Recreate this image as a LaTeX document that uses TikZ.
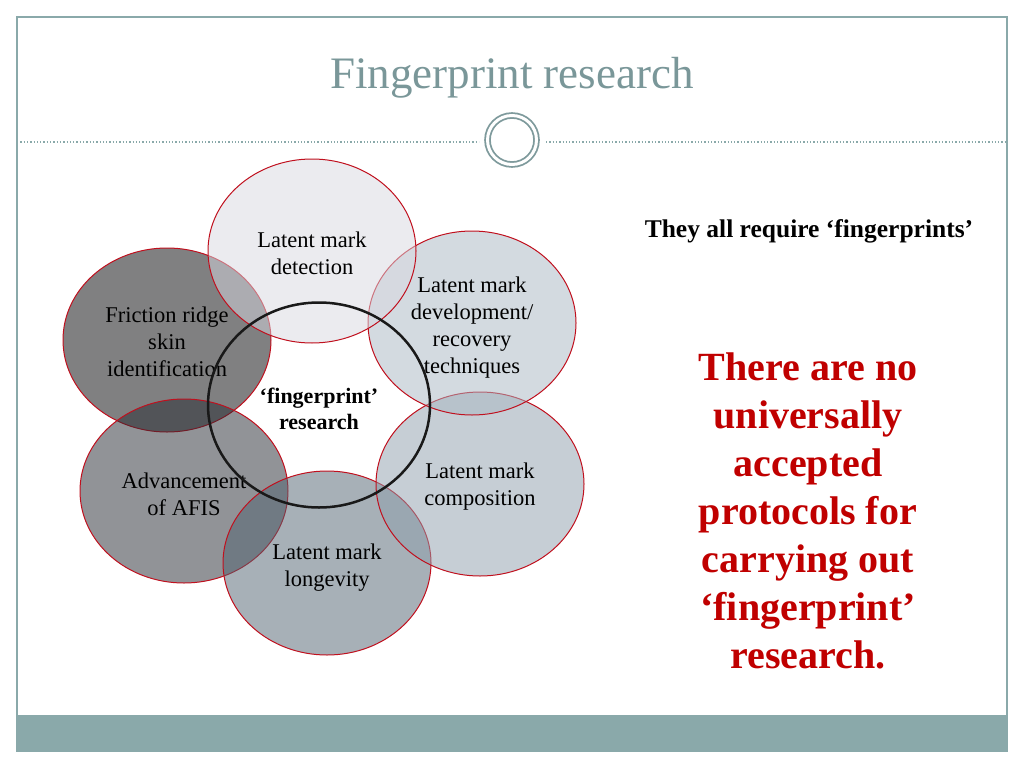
\documentclass[tikz,border=0pt]{standalone}
\usepackage{fontspec}
\setmainfont{Liberation Serif}
\usetikzlibrary{shapes.geometric}
\definecolor{frame}{HTML}{8AA9AA}
\definecolor{ttl}{HTML}{7A9799}
\definecolor{ringc}{HTML}{7E9A9C}
\definecolor{redb}{HTML}{C0101E}
\definecolor{txtred}{HTML}{C00000}
\definecolor{cfric}{HTML}{020204}
\definecolor{cadv}{HTML}{252931}
\definecolor{clong}{HTML}{516371}
\definecolor{ccomp}{HTML}{8F9FAD}
\definecolor{cdev}{HTML}{A9B7C3}
\definecolor{cdet}{HTML}{D9D9E1}
\tikzset{
  venn/.style={ellipse, draw=redb, line width=1pt, minimum width=208pt, minimum height=184pt, inner sep=0pt, fill opacity=0.5},
  lbl/.style={align=center, font=\fontsize{22.5}{27}\selectfont, text=black},
  divline/.style={draw=frame, dotted, line width=1.3pt}
}
\begin{document}
\begin{tikzpicture}[x=1pt,y=-1pt]
\useasboundingbox (0,0) rectangle (1024,768);
\fill[white] (0,0) rectangle (1024,768);
\fill[frame] (17,715) rectangle (1007,751);
\draw[frame, line width=1.5pt] (17,17) rectangle (1007,751);
\node[anchor=base, text=ttl, font=\fontsize{45}{54}\selectfont, inner sep=0pt] (title) at (512,88) {Fingerprint research};
% divider
\coordinate (dl1) at (17,142);
\coordinate (dl2) at (479,142);
\coordinate (dr1) at (546,142);
\coordinate (dr2) at (1007,142);
\draw[divline] (dl1) -- (dl2);
\draw[divline] (dr1) -- (dr2);
\node[circle, draw=ringc, line width=1.8pt, double=white, double distance=3pt, minimum size=49pt, inner sep=0pt] (ring) at (512,140) {};
% circles
\node[venn, fill=cfric] (fric) at (167,340) {};
\node[venn, fill=cadv] (adv) at (184,491) {};
\node[venn, fill=clong] (long) at (327,563) {};
\node[venn, fill=ccomp] (comp) at (480,484) {};
\node[venn, fill=cdev] (dev) at (472,323) {};
\node[venn, fill=cdet] (det) at (312,251) {};
% labels
\node[lbl] (tdet) at ([yshift=-2pt]det) {Latent mark\\detection};
\node[lbl] (tdev) at ([yshift=-5pt]dev) {Latent mark\\development/\\recovery\\techniques};
\node[lbl] (tfric) at ([yshift=-1.5pt]fric) {Friction ridge\\skin\\identification};
\node[lbl] (tadv) at ([yshift=-3pt]adv) {Advancement\\of AFIS};
\node[lbl] (tcomp) at ([yshift=-3pt]comp) {Latent mark\\composition};
\node[lbl] (tlong) at ([yshift=-5pt]long) {Latent mark\\longevity};
% central circle
\node[ellipse, draw=black!90, line width=2.5pt, minimum width=222pt, minimum height=205pt, inner sep=0pt] (core) at (319,405) {};
\node[lbl, font=\bfseries\fontsize{22}{26.5}\selectfont] (tcore) at ([yshift=-4pt]core) {‘fingerprint’\\research};
% right texts
\node[anchor=base, font=\bfseries\fontsize{25.5}{30}\selectfont, inner sep=0pt] (req) at (809,237) {They all require ‘fingerprints’};
\node[align=center, text=txtred, font=\bfseries\fontsize{40}{48}\selectfont, inner sep=0pt] (proto) at (808,511) {There are no\\universally\\accepted\\protocols for\\carrying out\\‘fingerprint’\\research.};
\end{tikzpicture}
\end{document}
